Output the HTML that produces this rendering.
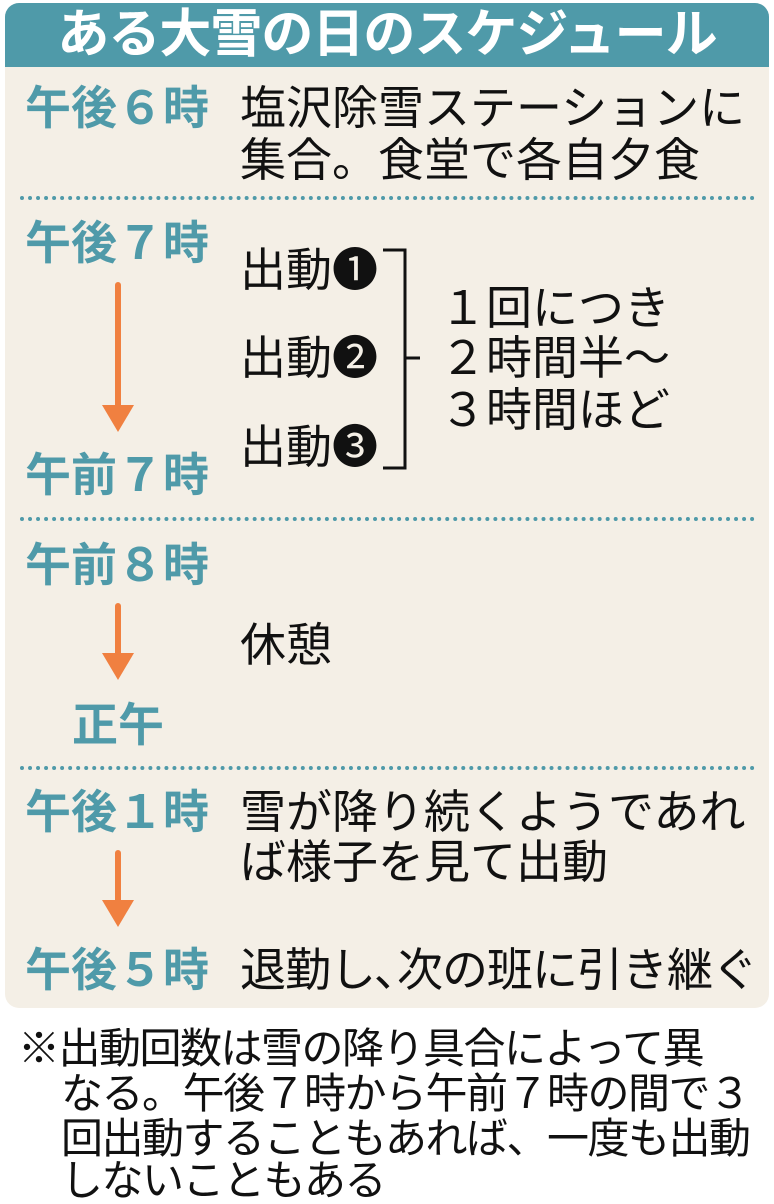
<!DOCTYPE html>
<html><head><meta charset="utf-8"><style>
body{margin:0;width:774px;height:1200px;background:#fff;position:relative;overflow:hidden;font-family:"Liberation Sans","Noto Sans CJK JP",sans-serif}
.box{position:absolute;left:5px;top:3px;width:764px;height:1005px;background:#f4efe6;border-radius:14px;overflow:hidden}
.hd{position:absolute;left:0;top:0;width:764px;height:64px;background:#4f9aa9;color:#fff;font-size:52px;line-height:64px;text-align:center;font-weight:bold;letter-spacing:-1px}
.t{position:absolute;color:#4f9aa9;font-size:46px;line-height:46px;font-weight:bold;white-space:nowrap}
.b{position:absolute;color:#111;font-size:46px;line-height:46px;white-space:nowrap}
.n{position:absolute;color:#111;font-size:42px;line-height:45px;white-space:nowrap;left:18px;letter-spacing:-1.5px}
.dot{position:absolute;left:20px;width:735px;height:0;border-top:4px dotted #4f9aa9}
</style></head><body>
<div class="box">
<div class="hd">ある大雪の日のスケジュール</div>
</div>
<div class="t" style="left:25px;top:85px">午後６時</div>
<div class="b" style="left:240px;top:85px">塩沢除雪ステーションに</div>
<div class="b" style="left:240px;top:137px">集合。食堂で各自夕食</div>
<div class="dot" style="top:196px"></div>
<div class="t" style="left:25px;top:220px">午後７時</div>
<div class="b" style="left:240px;top:247px">出動❶</div>
<div class="b" style="left:240px;top:335px">出動❷</div>
<div class="b" style="left:240px;top:424px">出動❸</div>
<div class="b" style="left:440px;top:285px">１回につき</div>
<div class="b" style="left:440px;top:335px">２時間半～</div>
<div class="b" style="left:440px;top:387px">３時間ほど</div>
<div class="t" style="left:25px;top:452px">午前７時</div>
<div class="dot" style="top:517px"></div>
<div class="t" style="left:25px;top:542px">午前８時</div>
<div class="b" style="left:240px;top:622px">休憩</div>
<div class="t" style="left:72px;top:702px">正午</div>
<div class="dot" style="top:766px"></div>
<div class="t" style="left:25px;top:789px">午後１時</div>
<div class="b" style="left:240px;top:789px">雪が降り続くようであれ</div>
<div class="b" style="left:240px;top:839px">ば様子を見て出動</div>
<div class="t" style="left:25px;top:947px">午後５時</div>
<div class="b" style="left:240px;top:947px;letter-spacing:-1px">退勤し､次の班に引き継ぐ</div>
<svg style="position:absolute;left:0;top:0" width="774" height="1200">
<g stroke="#f08040" stroke-width="6" stroke-linecap="round" fill="#f08040">
<line x1="118" y1="285" x2="118" y2="410"/><polygon points="102,405 134,405 118,432" stroke="none"/>
<line x1="118" y1="606" x2="118" y2="657"/><polygon points="102,653 134,653 118,680" stroke="none"/>
<line x1="118" y1="853" x2="118" y2="904"/><polygon points="102,900 134,900 118,927" stroke="none"/>
</g>
<polyline points="383,250 405,250 405,468 383,468" fill="none" stroke="#111" stroke-width="3"/>
<line x1="405" y1="358" x2="420" y2="358" stroke="#111" stroke-width="3"/>
</svg>
<div class="n" style="top:1026px">※出動回数は雪の降り具合によって異</div>
<div class="n" style="top:1071px;left:61px">なる。午後７時から午前７時の間で３</div>
<div class="n" style="top:1116px;left:61px">回出動することもあれば、一度も出動</div>
<div class="n" style="top:1158px;left:61px">しないこともある</div>
</body></html>
